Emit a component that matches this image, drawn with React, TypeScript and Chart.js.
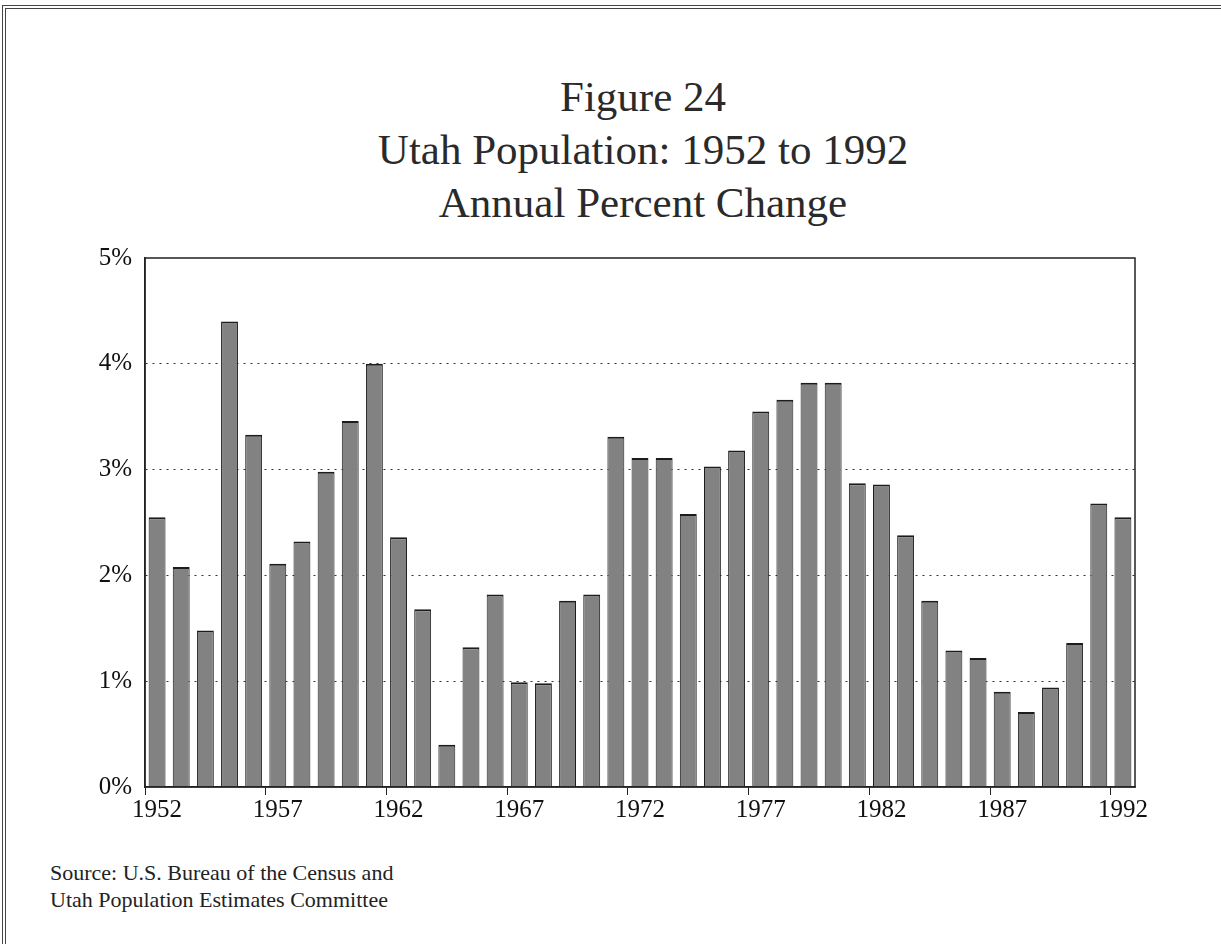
import React, { useEffect, useRef } from "react";
import { Chart, registerables } from "chart.js";

Chart.register(...registerables);

const years: string[] = [
  "1952", "1953", "1954", "1955", "1956", "1957", "1958", "1959", "1960", "1961",
  "1962", "1963", "1964", "1965", "1966", "1967", "1968", "1969", "1970", "1971",
  "1972", "1973", "1974", "1975", "1976", "1977", "1978", "1979", "1980", "1981",
  "1982", "1983", "1984", "1985", "1986", "1987", "1988", "1989", "1990", "1991",
  "1992",
];

const percentChange: number[] = [
  2.55, 2.08, 1.48, 4.4, 3.33, 2.11, 2.32, 2.98, 3.46, 4.0,
  2.36, 1.68, 0.4, 1.32, 1.82, 0.99, 0.98, 1.76, 1.82, 3.31,
  3.11, 3.11, 2.58, 3.03, 3.18, 3.55, 3.66, 3.82, 3.82, 2.87,
  2.86, 2.38, 1.76, 1.29, 1.22, 0.9, 0.71, 0.94, 1.36, 2.68,
  2.55,
];

const yTicks: number[] = [0, 1, 2, 3, 4, 5];
const titleLines: string[] = ["Figure 24", "Utah Population: 1952 to 1992", "Annual Percent Change"];
const sourceLines: string[] = ["Source: U.S. Bureau of the Census and", "Utah Population Estimates Committee"];

const FONT = "'Liberation Serif', 'Times New Roman', serif";

const frameBox = {
  id: "frameBox",
  afterDatasetsDraw(chart: any) {
    const { ctx, chartArea } = chart;
    ctx.save();
    ctx.strokeStyle = "#222";
    ctx.lineWidth = 1.5;
    ctx.strokeRect(chartArea.left, chartArea.top, chartArea.right - chartArea.left, chartArea.bottom - chartArea.top);
    ctx.restore();
  },
};

export default function App() {
  const canvasRef = useRef<HTMLCanvasElement | null>(null);

  useEffect(() => {
    if (!canvasRef.current) return;
    const chart = new Chart(canvasRef.current, {
      type: "bar",
      data: {
        labels: years,
        datasets: [
          {
            data: percentChange,
            backgroundColor: "#828282",
            borderColor: "#1c1c1c",
            borderWidth: { top: 2, left: 1, right: 1, bottom: 0 },
            borderSkipped: false,
            categoryPercentage: 1,
            barPercentage: 0.7,
          },
        ],
      },
      options: {
        animation: false,
        responsive: false,
        maintainAspectRatio: false,
        layout: { padding: { left: 0, right: 86, top: 25, bottom: 0 } },
        plugins: {
          legend: { display: false },
          tooltip: { enabled: false },
          title: { display: false },
        },
        scales: {
          x: {
            type: "category",
            offset: true,
            afterFit: (scale: any) => {
              scale.height = 43;
            },
            grid: {
              display: true,
              drawOnChartArea: false,
              drawTicks: true,
              tickLength: 8,
              color: (ctx: any) => (ctx.index % 5 === 0 ? "#222" : "rgba(0,0,0,0)"),
            },
            border: { display: true, color: "#222", width: 1.5 },
            ticks: {
              autoSkip: false,
              maxRotation: 0,
              minRotation: 0,
              padding: 0,
              color: "#111",
              font: { family: FONT, size: 25 },
              callback: (_v: any, i: number) => (i % 5 === 0 ? years[i] : ""),
            },
          },
          y: {
            min: 0,
            max: 5,
            afterFit: (scale: any) => {
              scale.width = 145;
            },
            afterBuildTicks: (scale: any) => {
              scale.ticks = yTicks.map((v) => ({ value: v }));
            },
            grid: {
              display: true,
              drawOnChartArea: true,
              drawTicks: false,
              color: (ctx: any) =>
                ctx.tick && (ctx.tick.value === 0 || ctx.tick.value === 5) ? "rgba(0,0,0,0)" : "#333",
              lineWidth: 1,
            },
            border: {
              display: true,
              color: "#222",
              width: 1.5,
              dash: (ctx: any) => (ctx.tick && ctx.tick.value > 0 && ctx.tick.value < 5 ? [2, 5] : []),
            },
            ticks: {
              padding: 13,
              color: "#111",
              font: { family: FONT, size: 25 },
              callback: (v: any) => `${v}%`,
            },
          },
        },
      },
      plugins: [frameBox],
    });
    return () => chart.destroy();
  }, []);

  return (
    <div
      style={{
        position: "fixed",
        left: 0,
        top: 0,
        width: 1221,
        height: 944,
        background: "#fff",
        overflow: "hidden",
        fontFamily: FONT,
      }}
    >
      <div
        style={{
          position: "absolute",
          left: 2,
          top: 5,
          width: 1240,
          height: 960,
          borderTop: "4px double #444",
          borderLeft: "4px double #444",
        }}
      />
      <div
        style={{
          position: "absolute",
          left: 338,
          width: 610,
          top: 70,
          textAlign: "center",
          fontSize: 43,
          lineHeight: "53px",
          color: "#2a2a2a",
          whiteSpace: "nowrap",
        }}
      >
        {titleLines.map((t) => (
          <div key={t}>{t}</div>
        ))}
      </div>
      <canvas
        ref={canvasRef}
        width={1221}
        height={600}
        style={{ position: "absolute", left: 0, top: 230, width: 1221, height: 600 }}
      />
      <div
        style={{
          position: "absolute",
          left: 50,
          top: 859,
          fontSize: 22,
          lineHeight: "27px",
          color: "#222",
        }}
      >
        {sourceLines.map((t) => (
          <div key={t}>{t}</div>
        ))}
      </div>
    </div>
  );
}
